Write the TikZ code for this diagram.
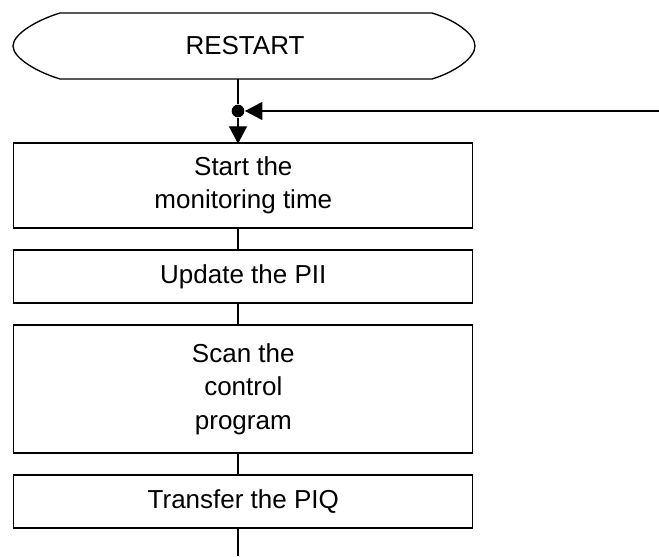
\documentclass[tikz,border=0pt]{standalone}
\usepackage{fontspec}
\setmainfont{Liberation Sans}
\usetikzlibrary{arrows.meta}

\begin{document}
\begin{tikzpicture}[x=0.75pt,y=-0.75pt,line width=1pt,
	block/.style={draw,minimum width=344.25pt,align=center,inner sep=0pt,
		font=\fontsize{19.5}{25}\selectfont},
	dot/.style={circle,fill,inner sep=0pt,minimum size=9.5pt},
	tip/.style={-{Triangle[length=13pt,width=13.5pt]}}]
	\useasboundingbox (0,0) rectangle (659,556);
	% terminator
	\draw (60,13) -- (432,13) .. controls (455,20) and (475,34) .. (475,46)
		.. controls (475,58) and (455,72) .. (432,79) -- (60,79)
		.. controls (37,72) and (13,58) .. (13,46)
		.. controls (13,34) and (37,20) .. (60,13);
	\node[font=\fontsize{19.5}{25}\selectfont] (restart) at (245,46) {RESTART};
	\coordinate (spine) at (238,0);
	\coordinate (termout) at (238,79);
	\node[dot] (join) at (238,111) {};
	\coordinate (loop) at (659,111);
	% steps
	\node[block,minimum height=63.75pt] (monitor) at (243.3,185.5) {Start the\\monitoring time};
	\node[block,minimum height=39.75pt] (pii) at (243.3,276.5) {Update the PII};
	\node[block,minimum height=96pt] (scan) at (243.3,389) {Scan the\\control\\program};
	\node[block,minimum height=39.75pt] (piq) at (243.3,501.5) {Transfer the PIQ};
	\coordinate (out) at (238,556);
	% connectors
	\draw (termout) -- (join);
	\draw[tip] (loop) -- (join);
	\draw[tip,shorten >=-1pt] (join) -- (monitor.north -| spine);
	\draw (monitor.south -| spine) -- (pii.north -| spine);
	\draw (pii.south -| spine) -- (scan.north -| spine);
	\draw (scan.south -| spine) -- (piq.north -| spine);
	\draw (piq.south -| spine) -- (out);
\end{tikzpicture}
\end{document}
